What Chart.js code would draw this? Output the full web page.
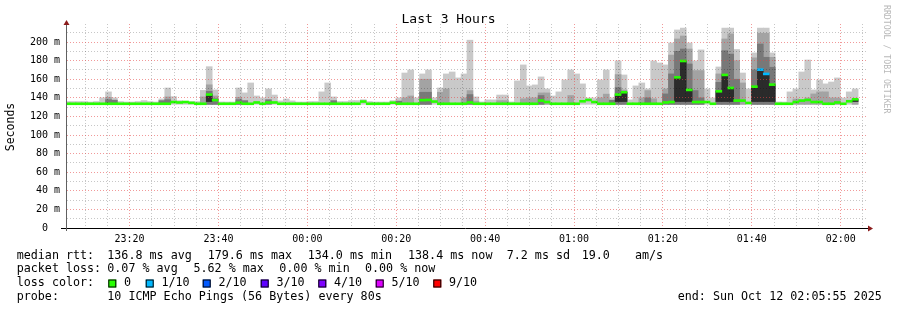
<!DOCTYPE html>
<html>
<head>
<meta charset="utf-8">
<title>Last 3 Hours</title>
<script src="https://cdn.jsdelivr.net/npm/chart.js@4.4.1/dist/chart.umd.min.js"></script>
<style>
  html, body { margin: 0; padding: 0; background: #fff; }
  canvas { display: block; }
</style>
</head>
<body>
<canvas id="smoke" width="897" height="310"></canvas>
<script>
// one bar every 80 s, first bar centred on 23:05:55 (minutes after 23:00)
const startMin = 5 + 55 / 60;
const stepMin = 80 / 60;

// top of the smoke (slowest of the 10 pings), ms
const maxRtt = [
  136, 136, 136, 136, 135.5, 136, 140, 146.4, 140, 136,
  135.5, 135.5, 136, 137, 136, 135.5, 138.8, 150.6, 141.3, 137,
  136, 136, 136, 148, 173.5, 148.5, 135.6, 135.5, 135.5, 150.6,
  145.3, 156, 142, 140, 149.6, 143, 136.7, 138.8, 136.7, 135.5,
  135.5, 136, 136, 146.4, 156, 141, 136, 136, 137, 137,
  138, 136, 135.5, 135.5, 135.5, 137, 140, 166.7, 170, 140,
  165.7, 170, 140, 150.6, 165.7, 167.8, 161.4, 165.7, 202, 141,
  135.6, 137.8, 137.8, 143, 143, 135.6, 158.2, 175.4, 152.8, 153.9,
  162.5, 149.6, 142, 146.4, 159.3, 170, 165.7, 155, 139.9, 139.9,
  159.3, 170, 140, 179.7, 164.6, 137.8, 152.8, 156, 149.6, 179.7,
  177.5, 175.4, 199, 213, 215, 199, 179.7, 191.5, 149.6, 139.9,
  173.2, 215, 215, 192, 166.7, 149.6, 188.3, 215, 215, 188.3,
  135.6, 135.5, 146.4, 149.6, 167.8, 180.7, 148.5, 159.3, 155, 157,
  161.4, 139.9, 146.4, 149.6
];

// upper edge of the medium grey smoke
const midRtt = [
  null, null, null, null, null, null, null, 140.5, null, null,
  null, null, null, null, null, null, null, 141, null, null,
  null, null, null, 141, 154, 142, null, null, null, 140.6,
  null, null, null, null, null, null, null, null, null, null,
  null, null, null, null, null, null, null, null, null, null,
  null, null, null, null, null, null, null, 140, 142, null,
  160, 160, null, 146, 149.6, null, null, 140, 147.8, 136.5,
  null, null, null, 137, 137, null, null, 139, 140, 140,
  145.3, 145.3, null, null, null, 142.5, null, null, null, null,
  140, 144, null, 165, 148.5, null, null, 140, 147.8, 139,
  null, 149.6, 186, 203.3, 206.5, 192.5, 169.3, 169.3, null, null,
  165.7, 203.3, 208.7, 180, 156, null, 183, 209.4, 209.4, 183.6,
  null, null, null, 138.8, 137.8, 139.9, 144.2, 146.4, 146.4, 139.9,
  139.9, null, null, 137
];

// upper edge of the dark grey smoke
const darkRtt = [
  null, null, null, null, null, null, null, 138, 137.5, null,
  null, null, null, null, null, null, 137, 138, null, null,
  null, null, null, null, 147, 139, null, null, null, 138,
  137, null, null, null, 138, null, null, null, null, null,
  null, null, null, null, null, 137, null, null, null, null,
  null, null, null, null, null, null, 136.5, null, null, null,
  146, 146, null, null, null, null, null, null, 143.5, null,
  null, null, null, null, null, null, null, null, null, null,
  142.5, null, null, null, null, null, null, null, null, null,
  null, null, 137.5, 151, 146, null, null, null, 140, null,
  null, 144.2, 165.7, 190, 192.5, 176.4, 147.8, 140, null, null,
  156.7, 190.7, 187, 160, null, null, 170, 197.9, 183.6, 172.9,
  null, null, null, null, null, null, null, null, null, null,
  null, null, null, null
];

// median rtt, ms
const medianRtt = [
  133.6, 133.6, 133.6, 133.6, 133.6, 133.6, 133.6, 133.6, 133.6, 133.6,
  133.6, 133.6, 133.6, 133.6, 133.6, 133.6, 133.6, 133.6, 135.5, 135,
  135.5, 134.6, 133.6, 133.6, 143.5, 137.5, 133.6, 133.6, 133.6, 134.8,
  133.6, 133.6, 135, 133.6, 135, 135, 133.6, 133.6, 133.6, 133.6,
  133.6, 133.6, 133.6, 133.6, 133.6, 133.6, 133.6, 133.6, 133.6, 133.6,
  136, 133.6, 133.6, 133.6, 133.6, 134.8, 133.6, 133.6, 133.6, 133.6,
  137.5, 137.7, 136, 133.6, 133.6, 133.6, 133.6, 133.6, 135, 133.6,
  133.6, 133.6, 133.6, 133.6, 133.6, 133.6, 133.6, 133.6, 133.6, 133.6,
  137, 135.5, 133.6, 133.6, 133.6, 133.6, 133.6, 136.3, 137.7, 135.5,
  133.6, 133.6, 133.6, 143.5, 146, 133.6, 133.6, 133.6, 133.6, 133.6,
  133.6, 135, 135.5, 162, 179.6, 148.5, 135.5, 135.5, 135.5, 133.6,
  147, 164.6, 150.6, 137, 137, 134.5, 152, 170.3, 165.7, 154.2,
  133.6, 133.6, 133.6, 135.5, 137, 137.7, 135.5, 135.5, 133.6, 133.6,
  135, 133.6, 136.3, 138.4
];

// lost pings out of 10 for each bar
const lossTenths = [
  0, 0, 0, 0, 0, 0, 0, 0, 0, 0,  0, 0, 0, 0, 0, 0, 0, 0, 0, 0,
  0, 0, 0, 0, 0, 0, 0, 0, 0, 0,  0, 0, 0, 0, 0, 0, 0, 0, 0, 0,
  0, 0, 0, 0, 0, 0, 0, 0, 0, 0,  0, 0, 0, 0, 0, 0, 0, 0, 0, 0,
  0, 0, 0, 0, 0, 0, 0, 0, 0, 0,  0, 0, 0, 0, 0, 0, 0, 0, 0, 0,
  0, 0, 0, 0, 0, 0, 0, 0, 0, 0,  0, 0, 0, 0, 0, 0, 0, 0, 0, 0,
  0, 0, 0, 0, 0, 0, 0, 0, 0, 0,  0, 0, 0, 0, 0, 0, 0, 1, 1, 0,
  0, 0, 0, 0, 0, 0, 0, 0, 0, 0,  0, 0, 0, 0
];

const lossColors = { 0: "#26ff00", 1: "#00b8ff", 2: "#0059ff", 3: "#5e00ff", 4: "#7e00ff", 5: "#dd00ff", 9: "#ff0000" };
const lossLabels = ["0", "1/10", "2/10", "3/10", "4/10", "5/10", "9/10"];
const lossKeys = [0, 1, 2, 3, 4, 5, 9];

// x ticks: minutes after 23:00
const timeTicks = [20, 40, 60, 80, 100, 120, 140, 160, 180];
const timeLabels = ["23:20", "23:40", "00:00", "00:20", "00:40", "01:00", "01:20", "01:40", "02:00"];

const legendRows = [
  [[16.7, "median rtt:"], [107.3, "136.8 ms avg"], [207.7, "179.6 ms max"], [307.7, "134.0 ms min"],
   [408, "138.4 ms now"], [506.7, "7.2 ms sd"], [581.7, "19.0"], [635, "am/s"]],
  [[16.7, "packet loss:"], [107.3, "0.07 % avg"], [193.5, "5.62 % max"], [279.3, "0.00 % min"], [365, "0.00 % now"]],
  [[16.7, "loss color:"]],
  [[16.7, "probe:"], [107.3, "10 ICMP Echo Pings (56 Bytes) every 80s"], [677.7, "end: Sun Oct 12 02:05:55 2025"]],
];
const legendY = [255.5, 269, 283, 297];
const lossBoxX = [108.3, 145.7, 202.7, 260.7, 318.3, 375.7, 433.3];

const xAt = (j) => startMin + j * stepMin;
const smokeLo = 133;
const band = (arr) => arr.map((v, j) => (v == null ? null : { x: xAt(j), y: [smokeLo, v] })).filter(Boolean);
const blackBand = medianRtt
  .map((m, j) => (m > 138 ? { x: xAt(j), y: [136, m] } : null))
  .filter(Boolean);

const MONO = '"DejaVu Sans Mono", monospace';
Chart.defaults.font.family = MONO;
Chart.defaults.color = "#000";

const minorGrid = "rgba(0,0,0,0.22)";
const majorGrid = "rgba(230,70,70,0.55)";

const decorations = {
  id: "decorations",
  afterDraw(chart) {
    const { ctx, chartArea: a } = chart;
    ctx.save();

    // axes
    ctx.lineWidth = 1;
    ctx.strokeStyle = "#000";
    ctx.beginPath();
    ctx.moveTo(a.left - 6, a.bottom + 0.5);
    ctx.lineTo(a.right + 3, a.bottom + 0.5);
    ctx.stroke();
    ctx.strokeStyle = "#606060";
    ctx.beginPath();
    ctx.moveTo(a.left - 0.5, a.bottom + 3);
    ctx.lineTo(a.left - 0.5, a.top - 1);
    ctx.stroke();

    // arrow heads
    ctx.fillStyle = "#8b1c1c";
    ctx.beginPath();
    ctx.moveTo(a.left - 3.5, a.top + 1);
    ctx.lineTo(a.left + 2.5, a.top + 1);
    ctx.lineTo(a.left - 0.5, a.top - 4);
    ctx.closePath();
    ctx.fill();
    ctx.beginPath();
    ctx.moveTo(a.right + 1, a.bottom - 2.5);
    ctx.lineTo(a.right + 1, a.bottom + 3.5);
    ctx.lineTo(a.right + 6, a.bottom + 0.5);
    ctx.closePath();
    ctx.fill();

    // title
    ctx.fillStyle = "#000";
    ctx.font = "13px " + MONO;
    ctx.textAlign = "center";
    ctx.textBaseline = "middle";
    ctx.fillText("Last 3 Hours", 448.5, 20);

    // y axis title
    ctx.save();
    ctx.font = "11.5px " + MONO;
    ctx.translate(11, 127);
    ctx.rotate(-Math.PI / 2);
    ctx.fillText("Seconds", 0, 0);
    ctx.restore();

    // watermark
    ctx.save();
    ctx.font = "8.2px " + MONO;
    ctx.fillStyle = "#b8b8b8";
    ctx.textAlign = "left";
    ctx.translate(886, 5);
    ctx.rotate(Math.PI / 2);
    ctx.fillText("RRDTOOL / TOBI OETIKER", 0, 0);
    ctx.restore();

    // legend
    ctx.font = "11.7px " + MONO;
    ctx.textAlign = "left";
    ctx.textBaseline = "middle";
    legendRows.forEach((row, r) => {
      row.forEach(([x, text]) => ctx.fillText(text, x, legendY[r]));
    });
    lossKeys.forEach((k, i) => {
      const bx = lossBoxX[i];
      const by = legendY[2] - 3.5;
      ctx.fillStyle = lossColors[k];
      ctx.fillRect(bx, by, 8, 8);
      ctx.strokeStyle = "#000";
      ctx.strokeRect(bx + 0.5, by + 0.5, 7, 7);
      ctx.fillStyle = "#000";
      ctx.fillText(lossLabels[i], bx + 15.7, legendY[2]);
    });

    ctx.restore();
  },
};

const barDefaults = { grouped: false, barPercentage: 1, categoryPercentage: 1, borderWidth: 0 };

new Chart(document.getElementById("smoke"), {
  type: "bar",
  data: {
    datasets: [
      {
        ...barDefaults,
        label: "median",
        order: 1,
        data: medianRtt.map((m, j) => ({ x: xAt(j), y: [m - 1.05, m + 1.05] })),
        backgroundColor: (c) => lossColors[lossTenths[c.dataIndex]] || lossColors[0],
      },
      { ...barDefaults, label: "core", order: 2, data: blackBand, backgroundColor: "#2b2b2b" },
      { ...barDefaults, label: "dark", order: 3, data: band(darkRtt), backgroundColor: "#787878" },
      { ...barDefaults, label: "mid", order: 4, data: band(midRtt), backgroundColor: "#a3a3a3" },
      { ...barDefaults, label: "max", order: 5, data: band(maxRtt), backgroundColor: "#c9c9c9" },
    ],
  },
  options: {
    responsive: false,
    animation: false,
    devicePixelRatio: 1,
    events: [],
    layout: { padding: { top: 24, right: 30, left: 0, bottom: 0 } },
    plugins: { legend: { display: false }, tooltip: { enabled: false }, title: { display: false } },
    scales: {
      x: {
        type: "linear",
        offset: false,
        min: startMin,
        max: startMin + 180,
        afterFit: (s) => { s.height = 82; },
        afterBuildTicks: (s) => {
          const t = [];
          for (let v = 10; v <= 185; v += 5) t.push({ value: v });
          s.ticks = t;
        },
        ticks: {
          autoSkip: false,
          maxRotation: 0,
          padding: 5,
          font: { size: 10 },
          callback: (v) => {
            const i = timeTicks.indexOf(v);
            return i >= 0 ? timeLabels[i] : "";
          },
        },
        grid: {
          z: 1,
          offset: false,
          drawTicks: false,
          color: (c) => (c.tick && c.tick.value % 20 === 0 ? majorGrid : minorGrid),
        },
        border: { display: false, dash: [1, 2] },
      },
      y: {
        min: 0,
        max: 219.4,
        afterFit: (s) => { s.width = 67; },
        afterBuildTicks: (s) => {
          const t = [];
          for (let v = 0; v <= 210; v += 10) t.push({ value: v });
          s.ticks = t;
        },
        ticks: {
          autoSkip: false,
          padding: 7,
          font: { size: 10 },
          callback: (v) => (v === 0 ? "0  " : v % 20 === 0 ? v + " m" : ""),
        },
        grid: {
          z: 1,
          drawTicks: false,
          color: (c) => {
            if (!c.tick || c.tick.value === 0) return "rgba(0,0,0,0)";
            return c.tick.value % 20 === 0 ? majorGrid : minorGrid;
          },
        },
        border: { display: false, dash: [1, 2] },
      },
    },
  },
  plugins: [decorations],
});
</script>
</body>
</html>
